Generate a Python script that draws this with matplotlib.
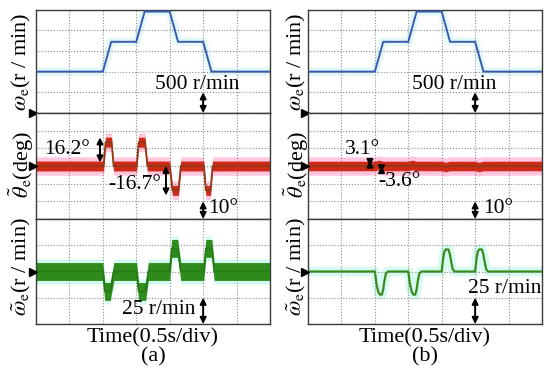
import numpy as np
import matplotlib
matplotlib.use('Agg')
import matplotlib.pyplot as plt
import matplotlib.transforms as mtransforms

plt.rcParams['font.family'] = ['Liberation Serif', 'DejaVu Serif']
plt.rcParams['mathtext.fontset'] = 'stix'

# ---- data (time in s, 0.5 s/div) ----
t_speed = [0, 1.0, 1.125, 1.5, 1.625, 2.0, 2.125, 2.5, 2.625, 3.5]
speed_a = [1000, 1000, 1720, 1720, 2450, 2450, 1720, 1720, 1000, 1000]
speed_b = [1000, 1000, 1720, 1720, 2450, 2450, 1720, 1720, 1000, 1000]

# position error (deg), band centre + noise half width
t_theta_a = [0, 1.01, 1.04, 1.13, 1.16, 1.505, 1.535, 1.63, 1.665,
             2.0, 2.04, 2.13, 2.165, 2.51, 2.54, 2.61, 2.64, 3.5]
theta_a = [0, 0, 13.5, 13.5, 0, 0, 13.5, 13.5, 0,
           0, -13.8, -13.8, 0, 0, -13.8, -13.8, 0, 0]
theta_a_noise = 2.8

t_theta_b = [0, 1.0, 1.06, 1.12, 1.5, 1.56, 1.62, 2.0, 2.06, 2.12, 2.5, 2.56, 2.62, 3.5]
theta_b = [0, 0, 0.6, 0, 0, 0.6, 0, 0, -0.6, 0, 0, -0.6, 0, 0]
theta_b_noise = 2.7

# speed error (r/min)
t_werr_a = [0, 1.0, 1.03, 1.11, 1.165, 1.505, 1.535, 1.64, 1.68,
            2.0, 2.03, 2.12, 2.165, 2.51, 2.54, 2.63, 2.665, 3.5]
werr_a = [0, 0, -19, -19, 0, 0, -19, -19, 0,
          0, 22, 22, 0, 0, 22, 22, 0, 0]
werr_a_noise = 8.5

t_werr_b = [0,
            1.0, 1.025, 1.05, 1.075, 1.105, 1.125, 1.14, 1.165, 1.195,
            1.5, 1.525, 1.55, 1.575, 1.605, 1.625, 1.64, 1.665, 1.695,
            2.0, 2.02, 2.04, 2.06, 2.1, 2.12, 2.14, 2.165, 2.195,
            2.5, 2.52, 2.54, 2.56, 2.6, 2.62, 2.64, 2.665, 2.695,
            3.5]
werr_b = [0,
          0, -12, -19, -22, -22, -17, -10, -2, 0,
          0, -12, -19, -22, -22, -17, -10, -2, 0,
          0, 12, 19, 21, 21, 17, 10, 2, 0,
          0, 12, 19, 21, 21, 17, 10, 2, 0,
          0]
werr_b_noise = 1.0

fig = plt.figure(figsize=(5.5, 3.75), dpi=100)

W, H = 550.0, 375.0
panel_x = [36, 308]
panel_w = 234
rows = [(9.5, 113), (113, 219), (219, 324)]   # pixel top/bottom of channels
ylims = [(0, 2500, 500), (-30, 30, 10), (-50, 50, 25)]

GRID = dict(color='#8c8c8c', lw=0.8, ls=(0, (1, 1.6)))


def make_axes(px):
    axs = []
    for (top, bot), (lo, hi, step) in zip(rows, ylims):
        ax = fig.add_axes([px / W, 1 - bot / H, panel_w / W, (bot - top) / H])
        ax.set_xlim(0, 3.5)
        ax.set_ylim(lo, hi)
        ax.set_xticks(np.arange(0, 3.51, 0.5))
        ax.set_yticks(np.arange(lo, hi + 0.1, step))
        ax.grid(True, **GRID)
        ax.tick_params(length=0, labelbottom=False, labelleft=False)
        for s in ax.spines.values():
            s.set_color('#3c3c3c')
            s.set_linewidth(1.0)
        axs.append(ax)
    return axs


def ground(ax, y):
    tr = mtransforms.blended_transform_factory(ax.transAxes, ax.transData)
    ax.plot([-0.012], [y], marker='>', ms=6, color='k', transform=tr, clip_on=False, zorder=5)


def darrow(ax, x, y1, y2):
    ax.annotate('', xy=(x, y1), xytext=(x, y2),
                arrowprops=dict(arrowstyle='<|-|>', color='k', lw=1.4,
                                mutation_scale=9, shrinkA=0, shrinkB=0),
                zorder=6)


def band(ax, t, c, half, col, dark, halo, halo_w):
    t = np.array(t)
    c = np.array(c, dtype=float)
    ax.fill_between(t, c - halo_w, c + halo_w, color=halo, lw=0, zorder=1)
    ax.fill_between(t, c - half, c + half, color=col, lw=0, zorder=2)
    ax.plot(t, c, color=dark, lw=1.2, zorder=3)


TXT = 15.5
for k, (px, speed, tth, th, thn, tw, we, wn, lab) in enumerate([
        (panel_x[0], speed_a, t_theta_a, theta_a, theta_a_noise, t_werr_a, werr_a, werr_a_noise, '(a)'),
        (panel_x[1], speed_b, t_theta_b, theta_b, theta_b_noise, t_werr_b, werr_b, werr_b_noise, '(b)')]):
    ax1, ax2, ax3 = make_axes(px)

    # speed
    ax1.plot(t_speed, speed, color='#e2f8f8', lw=6, zorder=1)
    ax1.plot(t_speed, speed, color='#3a5aae', lw=1.4, zorder=3)

    # position error
    band(ax2, tth, th, thn, '#cf2a18', '#8a3c12', '#ffc6de', 5.2)

    # speed error
    if k == 0:
        band(ax3, tw, we, wn, '#2f8c1c', '#267a16', '#d2fbef', 12)
    else:
        ax3.plot(tw, we, color='#d8fbf1', lw=7, zorder=1)
        ax3.plot(tw, we, color='#3b8a1e', lw=1.6, zorder=3)

    ground(ax1, 0)
    ground(ax2, 0)
    ground(ax3, 0)

    # scale arrows
    darrow(ax1, 2.5, 0, 500)
    darrow(ax2, 2.5, -30, -20)
    darrow(ax3, 2.5, -50, -25)

    if k == 0:
        ax1.text(2.415, 680, '500 r/min', fontsize=TXT, ha='center', va='center', zorder=7)
        ax2.text(2.57, -24.3, '10°', fontsize=TXT, ha='left', va='center', zorder=7)
        ax3.text(1.83, -36, '25 r/min', fontsize=TXT, ha='center', va='center', zorder=7)
        darrow(ax2, 0.957, 2, 16.2)
        darrow(ax2, 1.944, 0, -16.7)
        ax2.text(0.47, 9.6, '16.2°', fontsize=TXT, ha='center', va='center', zorder=7)
        ax2.text(1.48, -10.2, '-16.7°', fontsize=TXT, ha='center', va='center', zorder=7)
    else:
        ax1.text(2.18, 680, '500 r/min', fontsize=TXT, ha='center', va='center', zorder=7)
        ax2.text(2.62, -24.3, '10°', fontsize=TXT, ha='left', va='center', zorder=7)
        ax3.text(2.94, -16.2, '25 r/min', fontsize=TXT, ha='center', va='center', zorder=7,
                 clip_on=False)
        darrow(ax2, 0.927, 0, 3.1)
        darrow(ax2, 1.10, 0, -3.6)
        ax2.text(0.815, 9.6, '3.1°', fontsize=TXT, ha='center', va='center', zorder=7)
        ax2.text(1.368, -9.0, '-3.6°', fontsize=TXT, ha='center', va='center', zorder=7)

    # channel labels
    lx = (21 if k == 0 else 296) / W
    fig.text(lx, 1 - 61.5 / H, r'$\omega_\mathrm{e}$(r / min)', rotation=90,
             fontsize=16, ha='center', va='center')
    fig.text(lx, 1 - 165 / H, r'$\tilde{\theta}_\mathrm{e}$(deg)', rotation=90,
             fontsize=16, ha='center', va='center')
    fig.text(lx, 1 - 267 / H, r'$\tilde{\omega}_\mathrm{e}$(r / min)', rotation=90,
             fontsize=16, ha='center', va='center')

    cx = (px + panel_w / 2) / W
    fig.text(cx, 1 - 338 / H, 'Time(0.5s/div)', fontsize=16, ha='center', va='center')
    fig.text(cx, 1 - 357 / H, lab, fontsize=16, ha='center', va='center')

fig.savefig('out.png', dpi=100, facecolor='white')
